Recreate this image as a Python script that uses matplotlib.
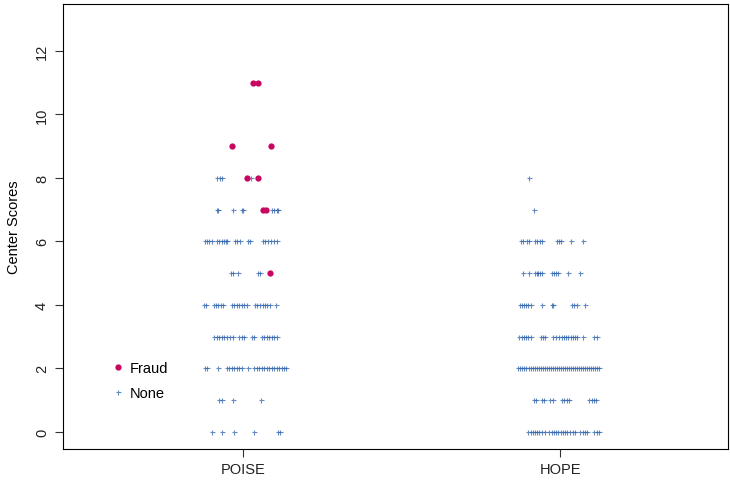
import matplotlib
matplotlib.use("Agg")
import matplotlib.pyplot as plt

plt.rcParams['font.family'] = ['Liberation Sans', 'DejaVu Sans']

# groups on the x axis
groups = ["POISE", "HOPE"]

# jitter offsets (x units) of each point, keyed by center score
poise_none = {
    0: [-0.098, -0.066, -0.028, 0.035, 0.110, 0.117],
    1: [-0.076, -0.066, -0.032, 0.057],
    2: [-0.120, -0.113, -0.079, -0.050, -0.044, -0.035, -0.028, -0.019, -0.013,
        -0.003, 0.016, 0.035, 0.044, 0.050, 0.060, 0.066, 0.076, 0.082, 0.091,
        0.098, 0.107, 0.113, 0.123, 0.129, 0.136],
    3: [-0.091, -0.082, -0.076, -0.066, -0.060, -0.050, -0.041, -0.032, -0.013,
        -0.003, 0.003, 0.028, 0.035, 0.060, 0.066, 0.076, 0.082, 0.091, 0.098, 0.107],
    4: [-0.123, -0.117, -0.091, -0.085, -0.079, -0.069, -0.063, -0.035, -0.028,
        -0.019, -0.013, -0.003, 0.003, 0.013, 0.038, 0.044, 0.054, 0.063, 0.069,
        0.076, 0.085, 0.104],
    5: [-0.038, -0.032, -0.016, 0.047, 0.054],
    6: [-0.120, -0.113, -0.107, -0.098, -0.082, -0.076, -0.066, -0.060, -0.054,
        -0.050, -0.025, -0.019, -0.009, 0.016, 0.022, 0.063, 0.069, 0.079, 0.088,
        0.098, 0.107],
    7: [-0.082, -0.079, -0.032, -0.003, 0.000, 0.091, 0.098, 0.107, 0.110],
    8: [-0.082, -0.073, -0.066, 0.025],
}

poise_fraud = {
    5: [0.085],
    7: [0.063, 0.073],
    8: [0.013, 0.047],
    9: [-0.035, 0.088],
    11: [0.032, 0.047],
}

hope_none = {
    0: [-0.101, -0.091, -0.085, -0.079, -0.073, -0.066, -0.057, -0.047, -0.035,
        -0.025, -0.019, -0.013, -0.006, 0.003, 0.009, 0.016, 0.022, 0.032, 0.041,
        0.047, 0.063, 0.073, 0.079, 0.085, 0.107, 0.117, 0.123],
    1: [-0.082, -0.076, -0.057, -0.050, -0.032, -0.022, 0.006, 0.013, 0.022,
        0.028, 0.091, 0.101, 0.107, 0.113],
    2: [-0.132, -0.127, -0.121, -0.113, -0.106, -0.098, -0.092, -0.085, -0.078,
        -0.073, -0.066, -0.061, -0.054, -0.047, -0.040, -0.035, -0.029, -0.022,
        -0.015, -0.009, -0.003, 0.004, 0.009, 0.016, 0.021, 0.028, 0.035, 0.042,
        0.047, 0.054, 0.059, 0.066, 0.073, 0.079, 0.086, 0.091, 0.098, 0.104,
        0.111, 0.117, 0.123],
    3: [-0.129, -0.120, -0.113, -0.107, -0.101, -0.091, -0.060, -0.054, -0.047,
        -0.022, -0.013, -0.003, 0.006, 0.013, 0.019, 0.025, 0.035, 0.041, 0.047,
        0.054, 0.073, 0.107, 0.117],
    4: [-0.126, -0.120, -0.113, -0.107, -0.101, -0.091, -0.057, -0.025, -0.022,
        0.038, 0.044, 0.054, 0.079],
    5: [-0.117, -0.098, -0.079, -0.073, -0.069, -0.063, -0.057, -0.025, -0.019,
        -0.013, -0.006, 0.025, 0.063],
    6: [-0.123, -0.117, -0.104, -0.098, -0.079, -0.073, -0.063, -0.057, -0.009,
        -0.003, 0.003, 0.035, 0.073],
    7: [-0.082],
    8: [-0.098],
}

blue = "#2f63ad"
red = "#c8065f"


def flatten(rows, center):
    xs, ys = [], []
    for score, offs in rows.items():
        for o in offs:
            xs.append(center + o)
            ys.append(score)
    return xs, ys


fig = plt.figure(figsize=(7.3, 4.85), dpi=100)
ax = fig.add_axes([63 / 730, 35 / 485, 665 / 730, 445 / 485])

for i, rows in enumerate([poise_none, hope_none]):
    x, y = flatten(rows, i + 1)
    ax.plot(x, y, linestyle="none", marker="+", markersize=3.6,
            markeredgewidth=0.8, color=blue, alpha=0.75,
            label="None" if i == 0 else None)

x, y = flatten(poise_fraud, 1)
ax.plot(x, y, linestyle="none", marker="o", markersize=4.5,
        color=red, markeredgewidth=0, label="Fraud")

ax.set_xlim(0.432, 2.53)
ax.set_ylim(-0.54, 13.48)
ax.set_xticks([1, 2])
ax.set_xticklabels(groups, fontsize=10.5)
ax.set_yticks(range(0, 13, 2))
ax.set_yticklabels([str(v) for v in range(0, 13, 2)], fontsize=10.5,
                   rotation=90, va="center")
ax.tick_params(length=6, width=0.8, color="#333333", labelcolor="#222222")
ax.tick_params(axis="y", pad=4)
for s in ax.spines.values():
    s.set_linewidth(0.8)
ax.set_ylabel("Center Scores", fontsize=10.5, labelpad=10)

handles, labels = ax.get_legend_handles_labels()
order = [labels.index("Fraud"), labels.index("None")]
ax.legend([handles[k] for k in order], [labels[k] for k in order],
          loc="center left", bbox_to_anchor=(0.052, 0.153), frameon=False,
          fontsize=10.5, handlelength=1.0, handletextpad=0.3,
          labelspacing=0.75, numpoints=1)

fig.savefig("out.png", dpi=100)
